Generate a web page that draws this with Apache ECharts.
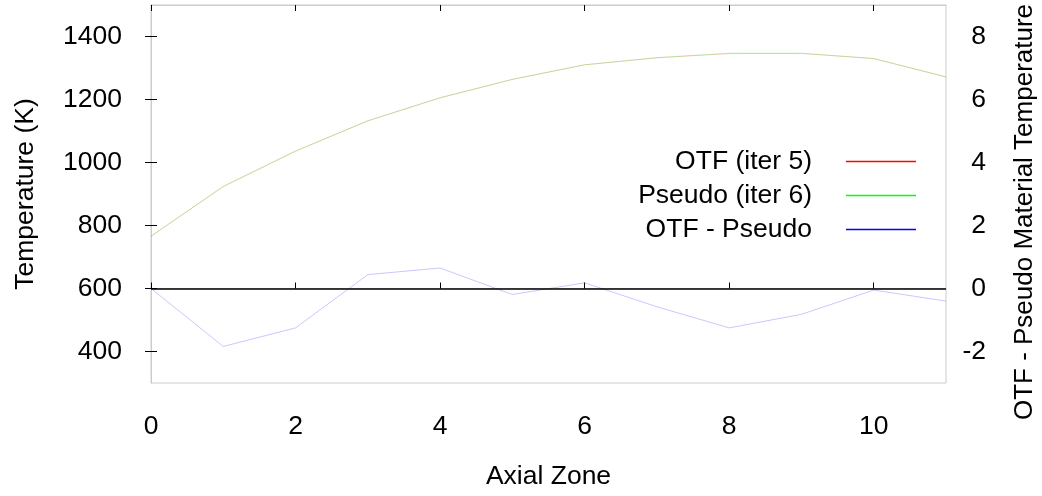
<!DOCTYPE html>
<html>
<head>
<meta charset="utf-8">
<script src="https://cdn.jsdelivr.net/npm/echarts@6/dist/echarts.min.js"></script>
<style>html,body{margin:0;padding:0;background:#fff;}#c{width:1042px;height:496px;}</style>
</head>
<body>
<div id="c"></div>
<script>
const zones = [0, 1, 2, 3, 4, 5, 6, 7, 8, 9, 10, 11];
const otfTemp = [766.0, 923.2, 1035.8, 1132.4, 1205.7, 1263.8, 1310.2, 1332.4, 1345.8, 1346.2, 1330.0, 1271.6];
const pseudoTemp = [766, 925, 1037, 1132, 1205, 1264, 1310, 1333, 1347, 1347, 1330, 1272];
const diffTemp = [0.00, -1.84, -1.25, 0.44, 0.65, -0.19, 0.18, -0.58, -1.25, -0.82, -0.05, -0.40];
const xTicks = [0, 2, 4, 6, 8, 10];
const leftTicks = [400, 600, 800, 1000, 1200, 1400];
const rightTicks = [-2, 0, 2, 4, 6, 8];
const seriesNames = ['OTF (iter 5)', 'Pseudo (iter 6)', 'OTF - Pseudo'];

const FONT = 'Liberation Sans';
const FS = 26.5;
const pairs = (ys) => zones.map((x, i) => [x, ys[i]]);
const plain = (v) => String(v);

const chart = echarts.init(document.getElementById('c'), null, {renderer: 'canvas'});
chart.setOption({
  animation: false,
  backgroundColor: '#fff',
  textStyle: {fontFamily: FONT, color: '#000'},
  grid: {left: 151, right: 96, top: 5, bottom: 113, show: true, borderColor: '#cccccc', borderWidth: 1,
         containLabel: false, outerBoundsMode: 'none'},
  legend: {
    orient: 'vertical', right: 121, top: 143, align: 'right',
    icon: 'rect', itemWidth: 70, itemHeight: 1.5, itemGap: 7, selectedMode: false,
    data: seriesNames,
    itemStyle: {opacity: 1},
    textStyle: {fontFamily: FONT, fontSize: FS, color: '#000', lineHeight: 27, padding: [0, 29, 0, 0]}
  },
  xAxis: [{
    type: 'value', min: 0, max: 11, position: 'bottom',
    name: 'Axial Zone', nameLocation: 'middle', nameGap: 80,
    nameTextStyle: {fontFamily: FONT, fontSize: FS, color: '#000'},
    axisLine: {show: true, lineStyle: {color: '#cccccc'}},
    axisTick: {show: true, inside: true, length: 6, lineStyle: {color: '#000'}, customValues: xTicks},
    axisLabel: {show: true, margin: 30, fontFamily: FONT, fontSize: FS, color: '#000', customValues: xTicks, formatter: plain},
    splitLine: {show: false}
  }, {
    type: 'value', min: 0, max: 11, position: 'top',
    axisLine: {show: true, lineStyle: {color: '#cccccc'}},
    axisTick: {show: true, inside: true, length: 6, lineStyle: {color: '#000'}, customValues: xTicks},
    axisLabel: {show: false},
    splitLine: {show: false}
  }],
  yAxis: [{
    type: 'value', min: 300, max: 1500, position: 'left',
    name: 'Temperature (K)', nameLocation: 'middle', nameGap: 112, nameRotate: 90,
    nameTextStyle: {fontFamily: FONT, fontSize: FS, color: '#000'},
    axisLine: {show: true, lineStyle: {color: '#cccccc'}},
    axisTick: {show: true, inside: true, length: 6, lineStyle: {color: '#000'}, customValues: leftTicks},
    axisLabel: {show: true, margin: 29, fontFamily: FONT, fontSize: FS, color: '#000', customValues: leftTicks, formatter: plain},
    splitLine: {show: false}
  }, {
    type: 'value', min: -3, max: 9, position: 'right',
    name: 'OTF - Pseudo Material Temperature', nameLocation: 'middle', nameGap: 66, nameRotate: 90,
    nameTextStyle: {fontFamily: FONT, fontSize: 26, color: '#000', padding: [0, 36, 0, 0]},
    axisLine: {show: true, lineStyle: {color: '#cccccc'}},
    axisTick: {show: true, inside: true, length: 6, lineStyle: {color: '#000'}, customValues: rightTicks},
    axisLabel: {show: true, margin: 40, align: 'right', fontFamily: FONT, fontSize: FS, color: '#000', customValues: rightTicks, formatter: plain},
    splitLine: {show: false}
  }],
  series: [{
    name: seriesNames[0], type: 'line', xAxisIndex: 0, yAxisIndex: 0,
    data: pairs(otfTemp), symbol: 'none', showSymbol: false,
    color: '#ff0000', lineStyle: {color: '#ff0000', width: 1, opacity: 0.22}
  }, {
    name: seriesNames[1], type: 'line', xAxisIndex: 0, yAxisIndex: 0,
    data: pairs(pseudoTemp), symbol: 'none', showSymbol: false,
    color: '#00ff00', lineStyle: {color: '#00ff00', width: 1, opacity: 0.22}
  }, {
    name: seriesNames[2], type: 'line', xAxisIndex: 0, yAxisIndex: 1,
    data: pairs(diffTemp), symbol: 'none', showSymbol: false,
    color: '#0000ff', lineStyle: {color: '#0000ff', width: 1, opacity: 0.22},
    markLine: {
      silent: true, symbol: 'none', animation: false,
      label: {show: false},
      lineStyle: {color: '#000', width: 1.5, type: 'solid', opacity: 1},
      data: [{yAxis: 0}]
    }
  }]
});
</script>
</body>
</html>
